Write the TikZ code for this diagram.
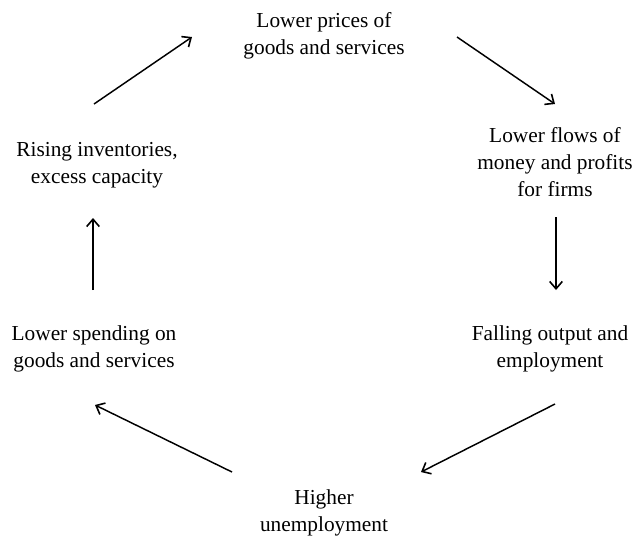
\documentclass[tikz,border=0pt]{standalone}
\usepackage{fontspec}
\setmainfont{Liberation Serif}
\usetikzlibrary{arrows.meta}
\definecolor{ink}{HTML}{000000}
\tikzset{
  lab/.style={text=ink, align=center, inner sep=0pt, font=\fontsize{16}{20.3}\selectfont},
  arr/.style={draw=ink, line width=1.1pt, -{Straight Barb[length=5.5pt,width=9.5pt,line width=1.2pt]}},
}
\begin{document}
\begin{tikzpicture}[x=0.75pt, y=-0.75pt]
\useasboundingbox (0,0) rectangle (635,537);

% the six stages
\node[lab] (prices)   at (324,36)  {Lower prices of\\goods and services};
\node[lab] (flows)    at (555,162) {Lower flows of\\money and profits\\for firms};
\node[lab] (falling)  at (550,349) {Falling output and\\employment};
\node[lab] (higher)   at (324,513) {Higher\\unemployment};
\node[lab] (spending) at (94,349)  {Lower spending on\\goods and services};
\node[lab] (rising)   at (97,165)  {Rising inventories,\\excess capacity};

% arrow ends
\coordinate (r1) at (94,104);  \coordinate (p1) at (192,37);
\coordinate (p2) at (457,37);  \coordinate (f1) at (555,104);
\coordinate (f2) at (556,217); \coordinate (o1) at (556,290);
\coordinate (o2) at (555,404); \coordinate (h1) at (421,472);
\coordinate (h2) at (232,472); \coordinate (s1) at (95,405);
\coordinate (s2) at (93,290);  \coordinate (r2) at (93,218);

% the cycle
\draw[arr] (r1) -- (p1);
\draw[arr] (p2) -- (f1);
\draw[arr] (f2) -- (o1);
\draw[arr] (o2) -- (h1);
\draw[arr] (h2) -- (s1);
\draw[arr] (s2) -- (r2);
\end{tikzpicture}
\end{document}
